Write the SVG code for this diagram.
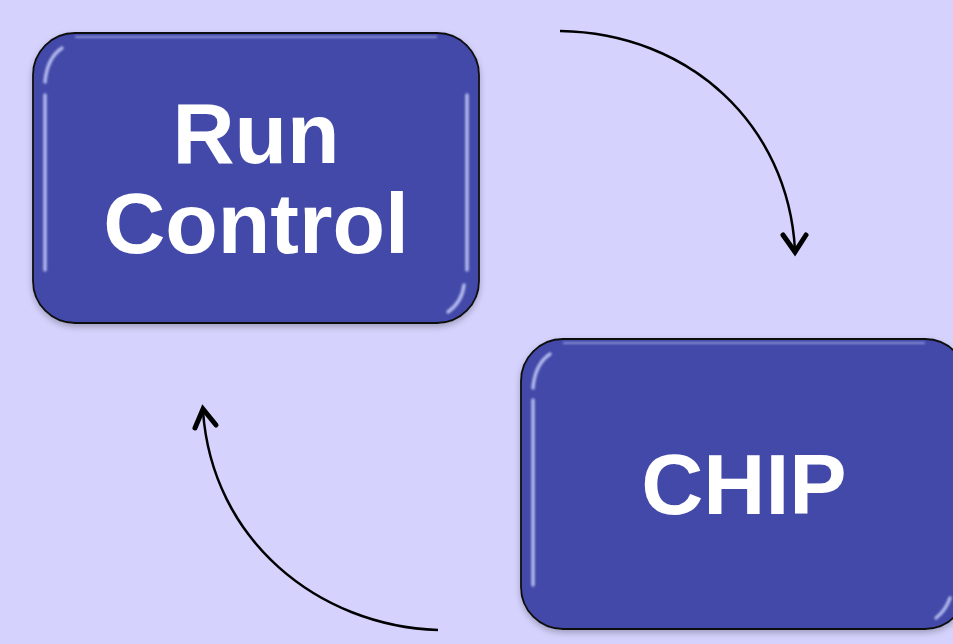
<svg xmlns="http://www.w3.org/2000/svg" width="953" height="644" viewBox="0 0 953 644">
<style>
.box{fill:#4249a8;stroke:#111;stroke-width:1.8}
.gloss{fill:none;stroke:#d0d4ff;stroke-width:3.5;stroke-linecap:round;opacity:0.8}
.lbl{font-family:"Liberation Sans",Arial,sans-serif;font-weight:bold;fill:#fff;text-anchor:middle}
.conn{fill:none;stroke:#000;stroke-width:2.5}
.head{fill:none;stroke:#000;stroke-width:5;stroke-linecap:round;stroke-linejoin:miter}
</style>
<defs>
<filter id="sh" x="-10%" y="-10%" width="120%" height="120%">
<feGaussianBlur in="SourceAlpha" stdDeviation="3"/>
<feOffset dx="0" dy="3" result="b"/>
<feFlood flood-color="#000" flood-opacity="0.25"/>
<feComposite in2="b" operator="in"/>
<feMerge><feMergeNode/><feMergeNode in="SourceGraphic"/></feMerge>
</filter>
<filter id="soft" x="-20%" y="-20%" width="140%" height="140%">
<feGaussianBlur stdDeviation="1"/>
</filter>
</defs>
<rect width="953" height="644" fill="#d5d3fe"/>
<g id="run-control">
<rect class="box" x="33" y="33" width="446" height="290" rx="42" filter="url(#sh)"/>
<g filter="url(#soft)">
<path class="gloss" d="M45,82 Q47,58 62,48"/>
<path class="gloss" d="M45,95 L45,270" opacity="0.5"/>
<path class="gloss" d="M467,95 L467,270" opacity="0.5"/>
<path class="gloss" d="M464,285 Q462,302 448,312"/>
<path d="M75,37 L437,37" stroke="#8a90d8" stroke-width="2" fill="none"/>
</g>
<text class="lbl" x="256" y="163" font-size="86">Run</text>
<text class="lbl" x="256" y="253" font-size="86">Control</text>
</g>
<g id="chip">
<rect class="box" x="521" y="339" width="446" height="290" rx="42" filter="url(#sh)"/>
<g filter="url(#soft)">
<path class="gloss" d="M533,388 Q535,364 550,354"/>
<path class="gloss" d="M533,400 L533,585" opacity="0.5"/>
<path class="gloss" d="M950,598 Q946,610 936,618"/>
<path d="M563,343 L925,343" stroke="#8a90d8" stroke-width="2" fill="none"/>
</g>
<text class="lbl" x="744" y="514" font-size="86">CHIP</text>
</g>
<g id="connectors">
<path class="conn" d="M560,31 C690,33 788,125 795,250"/>
<path class="head" d="M783,235 L795,252 L806,235"/>
<path class="conn" d="M438,630 C318,626 212,540 203,411"/>
<path class="head" d="M195,428 L203,409 L216,425"/>
</g>
</svg>
